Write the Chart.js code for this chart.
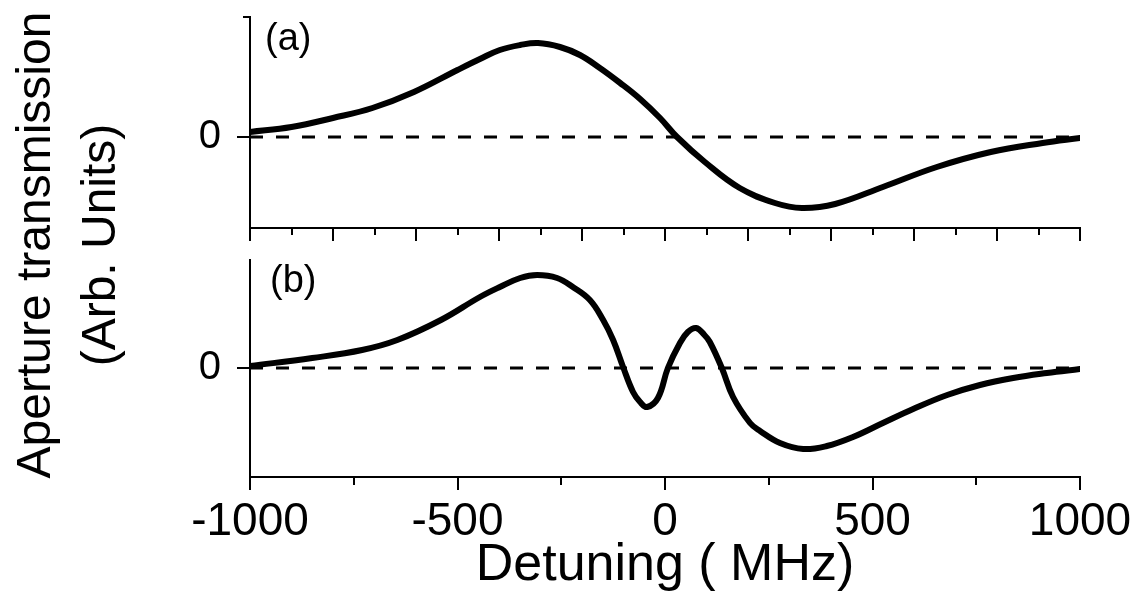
<!DOCTYPE html>
<html>
<head>
<meta charset="utf-8">
<title>Aperture transmission vs detuning</title>
<script src="https://cdn.jsdelivr.net/npm/chart.js@4.4.1/dist/chart.umd.min.js"></script>
<style>
  html, body { margin: 0; padding: 0; background: #fff; }
  #wrap { position: relative; width: 1138px; height: 603px; }
  #wrap canvas { position: absolute; left: 0; top: 0; }
</style>
</head>
<body>
<div id="wrap">
  <canvas id="chartA" width="1138" height="603"></canvas>
  <canvas id="chartB" width="1138" height="603"></canvas>
</div>
<script>
// --- data (detuning in MHz, signal in arb. units) ---
const detuningA = [-1000, -900, -800, -705, -605, -500, -446, -398, -349, -306, -253, -205, -157, -108, -60, -12, 29, 96, 180, 265, 330, 410, 525, 655, 785, 910, 1000];
const signalA   = [5, 10, 19, 29, 45, 67, 78, 87, 92, 94, 90, 82, 69, 54, 38, 19, 0, -25, -51, -66, -71, -67, -50, -30, -15, -6, -1];

const detuningB = [-1000, -850, -730, -645, -540, -446, -398, -349, -308, -260, -222, -181, -149, -125, -101, -77, -60, -43, -17, 7, 36, 55, 75, 95, 108, 137, 164, 205, 229, 277, 333, 390, 453, 525, 598, 680, 759, 839, 920, 1000];
const signalB   = [2, 10, 18, 28, 48, 71, 81, 90, 93, 90, 81, 68, 48, 28, 1, -24, -34, -39, -30, 0, 25, 36, 40, 33, 26, 0, -29, -55, -63, -75, -81, -78, -69, -55, -41, -27, -17, -10, -5, -1];

const zeroLineX = [-1000, 1000];
const yRangeA = [-91, 120];
const yRangeB = [-109, 108];

// tick marks
const xMajorA = [-1000, -800, -600, -400, -200, 0, 200, 400, 600, 800, 1000];
const xMinorA = [-900, -700, -500, -300, -100, 100, 300, 500, 700, 900];
const xLabelsB = [-1000, -500, 0, 500, 1000];
const xMinorB = [-750, -250, 250, 750];

const FONT = "'Liberation Sans', Arial, sans-serif";

// draws the short/long tick marks outside the axes
const tickMarks = {
  id: "tickMarks",
  afterDraw(chart, args, opts) {
    const ctx = chart.ctx;
    const area = chart.chartArea;
    ctx.save();
    ctx.strokeStyle = "#000";
    ctx.lineWidth = 2;
    ctx.beginPath();
    (opts.x || []).forEach(([vals, len]) => {
      vals.forEach(v => {
        const px = Math.round(chart.scales.x.getPixelForValue(v));
        ctx.moveTo(px, area.bottom);
        ctx.lineTo(px, area.bottom + len);
      });
    });
    (opts.y || []).forEach(([vals, len]) => {
      vals.forEach(v => {
        const py = Math.round(chart.scales.y.getPixelForValue(v));
        ctx.moveTo(area.left, py);
        ctx.lineTo(area.left - len, py);
      });
    });
    ctx.stroke();
    ctx.restore();
  }
};

// "(a)" / "(b)" in the top left of each panel
const panelLabel = {
  id: "panelLabel",
  afterDraw(chart, args, opts) {
    const ctx = chart.ctx;
    ctx.save();
    ctx.fillStyle = "#000";
    ctx.font = "38px " + FONT;
    ctx.textAlign = "left";
    ctx.textBaseline = "alphabetic";
    ctx.fillText(opts.text, chart.chartArea.left + opts.dx, chart.chartArea.top + opts.dy);
    ctx.restore();
  }
};

// shared y title spanning both panels
const yTitle = {
  id: "yTitle",
  afterDraw(chart, args, opts) {
    const ctx = chart.ctx;
    ctx.save();
    ctx.fillStyle = "#000";
    ctx.font = "48px " + FONT;
    ctx.textAlign = "center";
    ctx.textBaseline = "alphabetic";
    ctx.translate(opts.x, opts.y);
    ctx.rotate(-Math.PI / 2);
    opts.lines.forEach((t, i) => ctx.fillText(t, 0, i * opts.gap));
    ctx.restore();
  }
};

function makePanel(id, xs, ys, cfg) {
  const points = xs.map((x, i) => ({ x, y: ys[i] }));
  const zero = zeroLineX.map(x => ({ x, y: 0 }));

  return new Chart(document.getElementById(id), {
    type: "line",
    data: {
      datasets: [
        { data: zero, borderColor: "#000", borderWidth: 3, borderDash: [13, 13], pointRadius: 0 },
        { data: points, borderColor: "#000", borderWidth: 6, pointRadius: 0,
          tension: 0.4, borderJoinStyle: "round", borderCapStyle: "round" }
      ]
    },
    options: {
      responsive: false,
      animation: false,
      layout: { padding: cfg.padding },
      plugins: {
        legend: { display: false },
        tooltip: { enabled: false },
        tickMarks: cfg.ticks,
        panelLabel: cfg.label,
        yTitle: cfg.yTitle || false
      },
      scales: {
        x: cfg.x,
        y: {
          min: cfg.yRange[0],
          max: cfg.yRange[1],
          grid: { display: false },
          border: { color: "#000", width: 2 },
          afterBuildTicks: s => { s.ticks = [{ value: 0 }]; },
          ticks: { callback: v => String(v), padding: 21, color: "#000", font: { family: FONT, size: 40 } },
          afterFit: s => { s.width = 250; s.paddingTop = 0; s.paddingBottom = 0; }
        }
      }
    },
    plugins: [tickMarks, panelLabel, yTitle]
  });
}

// --- panel (a) ---
makePanel("chartA", detuningA, signalA, {
  padding: { left: 0, right: 58, top: 17, bottom: 375 },
  yRange: yRangeA,
  ticks: { x: [[xMajorA, 13], [xMinorA, 7]], y: [[[0], 13], [[yRangeA[1]], 7]] },
  label: { text: "(a)", dx: 15, dy: 33 },
  x: {
    type: "linear", min: -1000, max: 1000,
    grid: { display: false },
    border: { color: "#000", width: 2 },
    ticks: { display: false },
    afterFit: s => { s.height = 0; s.paddingLeft = 0; s.paddingRight = 0; }
  }
});

// --- panel (b) ---
makePanel("chartB", detuningB, signalB, {
  padding: { left: 0, right: 58, top: 260, bottom: 0 },
  yRange: yRangeB,
  ticks: { x: [[xLabelsB, 13], [xMinorB, 8]], y: [[[0], 13]] },
  label: { text: "(b)", dx: 20, dy: 32 },
  yTitle: { x: 50, y: 245, gap: 65, lines: ["Aperture transmission", "(Arb. Units)"] },
  x: {
    type: "linear", min: -1000, max: 1000,
    grid: { display: false },
    border: { color: "#000", width: 2 },
    afterBuildTicks: s => { s.ticks = xLabelsB.map(v => ({ value: v })); },
    ticks: { callback: v => String(v), autoSkip: false, maxRotation: 0, padding: 10,
             color: "#000", font: { family: FONT, size: 46 } },
    title: { display: true, text: "Detuning ( MHz)", color: "#000",
             font: { family: FONT, size: 52 }, padding: { top: 0, bottom: 6 } },
    afterFit: s => { s.height = 126; s.paddingLeft = 0; s.paddingRight = 0; }
  }
});
</script>
</body>
</html>
